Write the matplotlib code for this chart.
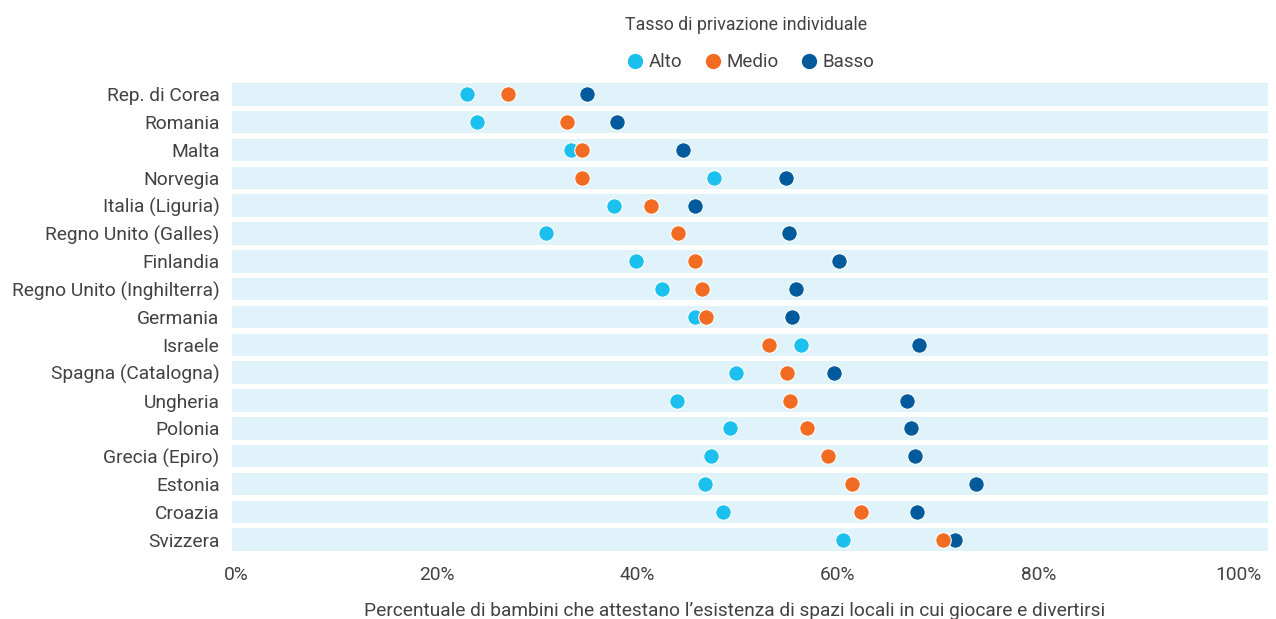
import numpy as np
import matplotlib.pyplot as plt
from matplotlib.lines import Line2D

plt.rcParams['font.family'] = ['Roboto', 'DejaVu Sans']

countries = ['Rep. di Corea', 'Romania', 'Malta', 'Norvegia', 'Italia (Liguria)',
             'Regno Unito (Galles)', 'Finlandia', 'Regno Unito (Inghilterra)',
             'Germania', 'Israele', 'Spagna (Catalogna)', 'Ungheria', 'Polonia',
             'Grecia (Epiro)', 'Estonia', 'Croazia', 'Svizzera']
alto = [23.0, 24.0, 33.4, 47.7, 37.7, 30.9, 39.9, 42.5, 45.8, 56.3, 49.9, 44.0,
        49.3, 47.4, 46.8, 48.6, 60.5]
medio = [27.1, 33.0, 34.5, 34.5, 41.4, 44.1, 45.8, 46.5, 46.9, 53.1, 54.9, 55.2,
         56.9, 59.0, 61.4, 62.3, 70.5]
basso = [35.0, 38.0, 44.6, 54.8, 45.8, 55.1, 60.1, 55.8, 55.4, 68.1, 59.6, 66.9,
         67.3, 67.7, 73.8, 67.9, 71.7]
xticks = [0, 20, 40, 60, 80, 100]

c_alto = '#1cc0ee'
c_medio = '#f26b23'
c_basso = '#005a9b'
band = '#e1f3fa'
txt = '#424242'
fs = 13.8

W, H = 1276, 619
fig = plt.figure(figsize=(W / 100, H / 100), dpi=100)
ax = fig.add_axes([232 / W, 1 - 551 / H, (1268 - 232) / W, (551 - 83) / H])

xmin, xmax = -0.4, 102.9
bh = 0.81
y = np.arange(len(countries))
ax.barh(y, xmax - xmin, left=xmin, height=bh, color=band, zorder=0)

s = 125
ax.scatter(alto, y, s=s, color=c_alto, edgecolor='white', linewidth=0.8, zorder=3)
ax.scatter(basso, y, s=s, color=c_basso, edgecolor='white', linewidth=0.8, zorder=4)
ax.scatter(medio, y, s=s, color=c_medio, edgecolor='white', linewidth=0.8, zorder=5)

ax.set_xlim(xmin, xmax)
ax.set_ylim(len(countries) - 1 + bh / 2, -bh / 2)
ax.set_yticks(y)
ax.set_yticklabels(countries, fontsize=fs, color=txt)
ax.set_xticks(xticks)
ax.set_xticklabels([f'{t}%' for t in xticks], fontsize=fs, color=txt)
ax.tick_params(axis='both', length=0)
ax.tick_params(axis='y', pad=9)
ax.tick_params(axis='x', pad=11)
for sp in ax.spines.values():
    sp.set_visible(False)

fig.text(735 / W, 1 - 602 / H, 'Percentuale di bambini che attestano l\u2019esistenza di spazi locali in cui giocare e divertirsi',
         ha='center', va='top', fontsize=fs, color=txt)

handles = [Line2D([], [], marker='o', linestyle='', markersize=11, color=c, markeredgewidth=0)
           for c in (c_alto, c_medio, c_basso)]
leg = fig.legend(handles, ['Alto', 'Medio', 'Basso'], ncol=3, frameon=False,
                 loc='upper left', bbox_to_anchor=(608 / W, 1 + 1 / H),
                 title='Tasso di privazione individuale', title_fontsize=12.8,
                 fontsize=13.5, handletextpad=0.15, columnspacing=1.1,
                 handlelength=1.1, alignment='left', labelspacing=0.3)
for t in leg.get_texts():
    t.set_color(txt)
leg.get_title().set_color(txt)
leg._legend_box.sep = 14

fig.savefig('out.png', dpi=100)
